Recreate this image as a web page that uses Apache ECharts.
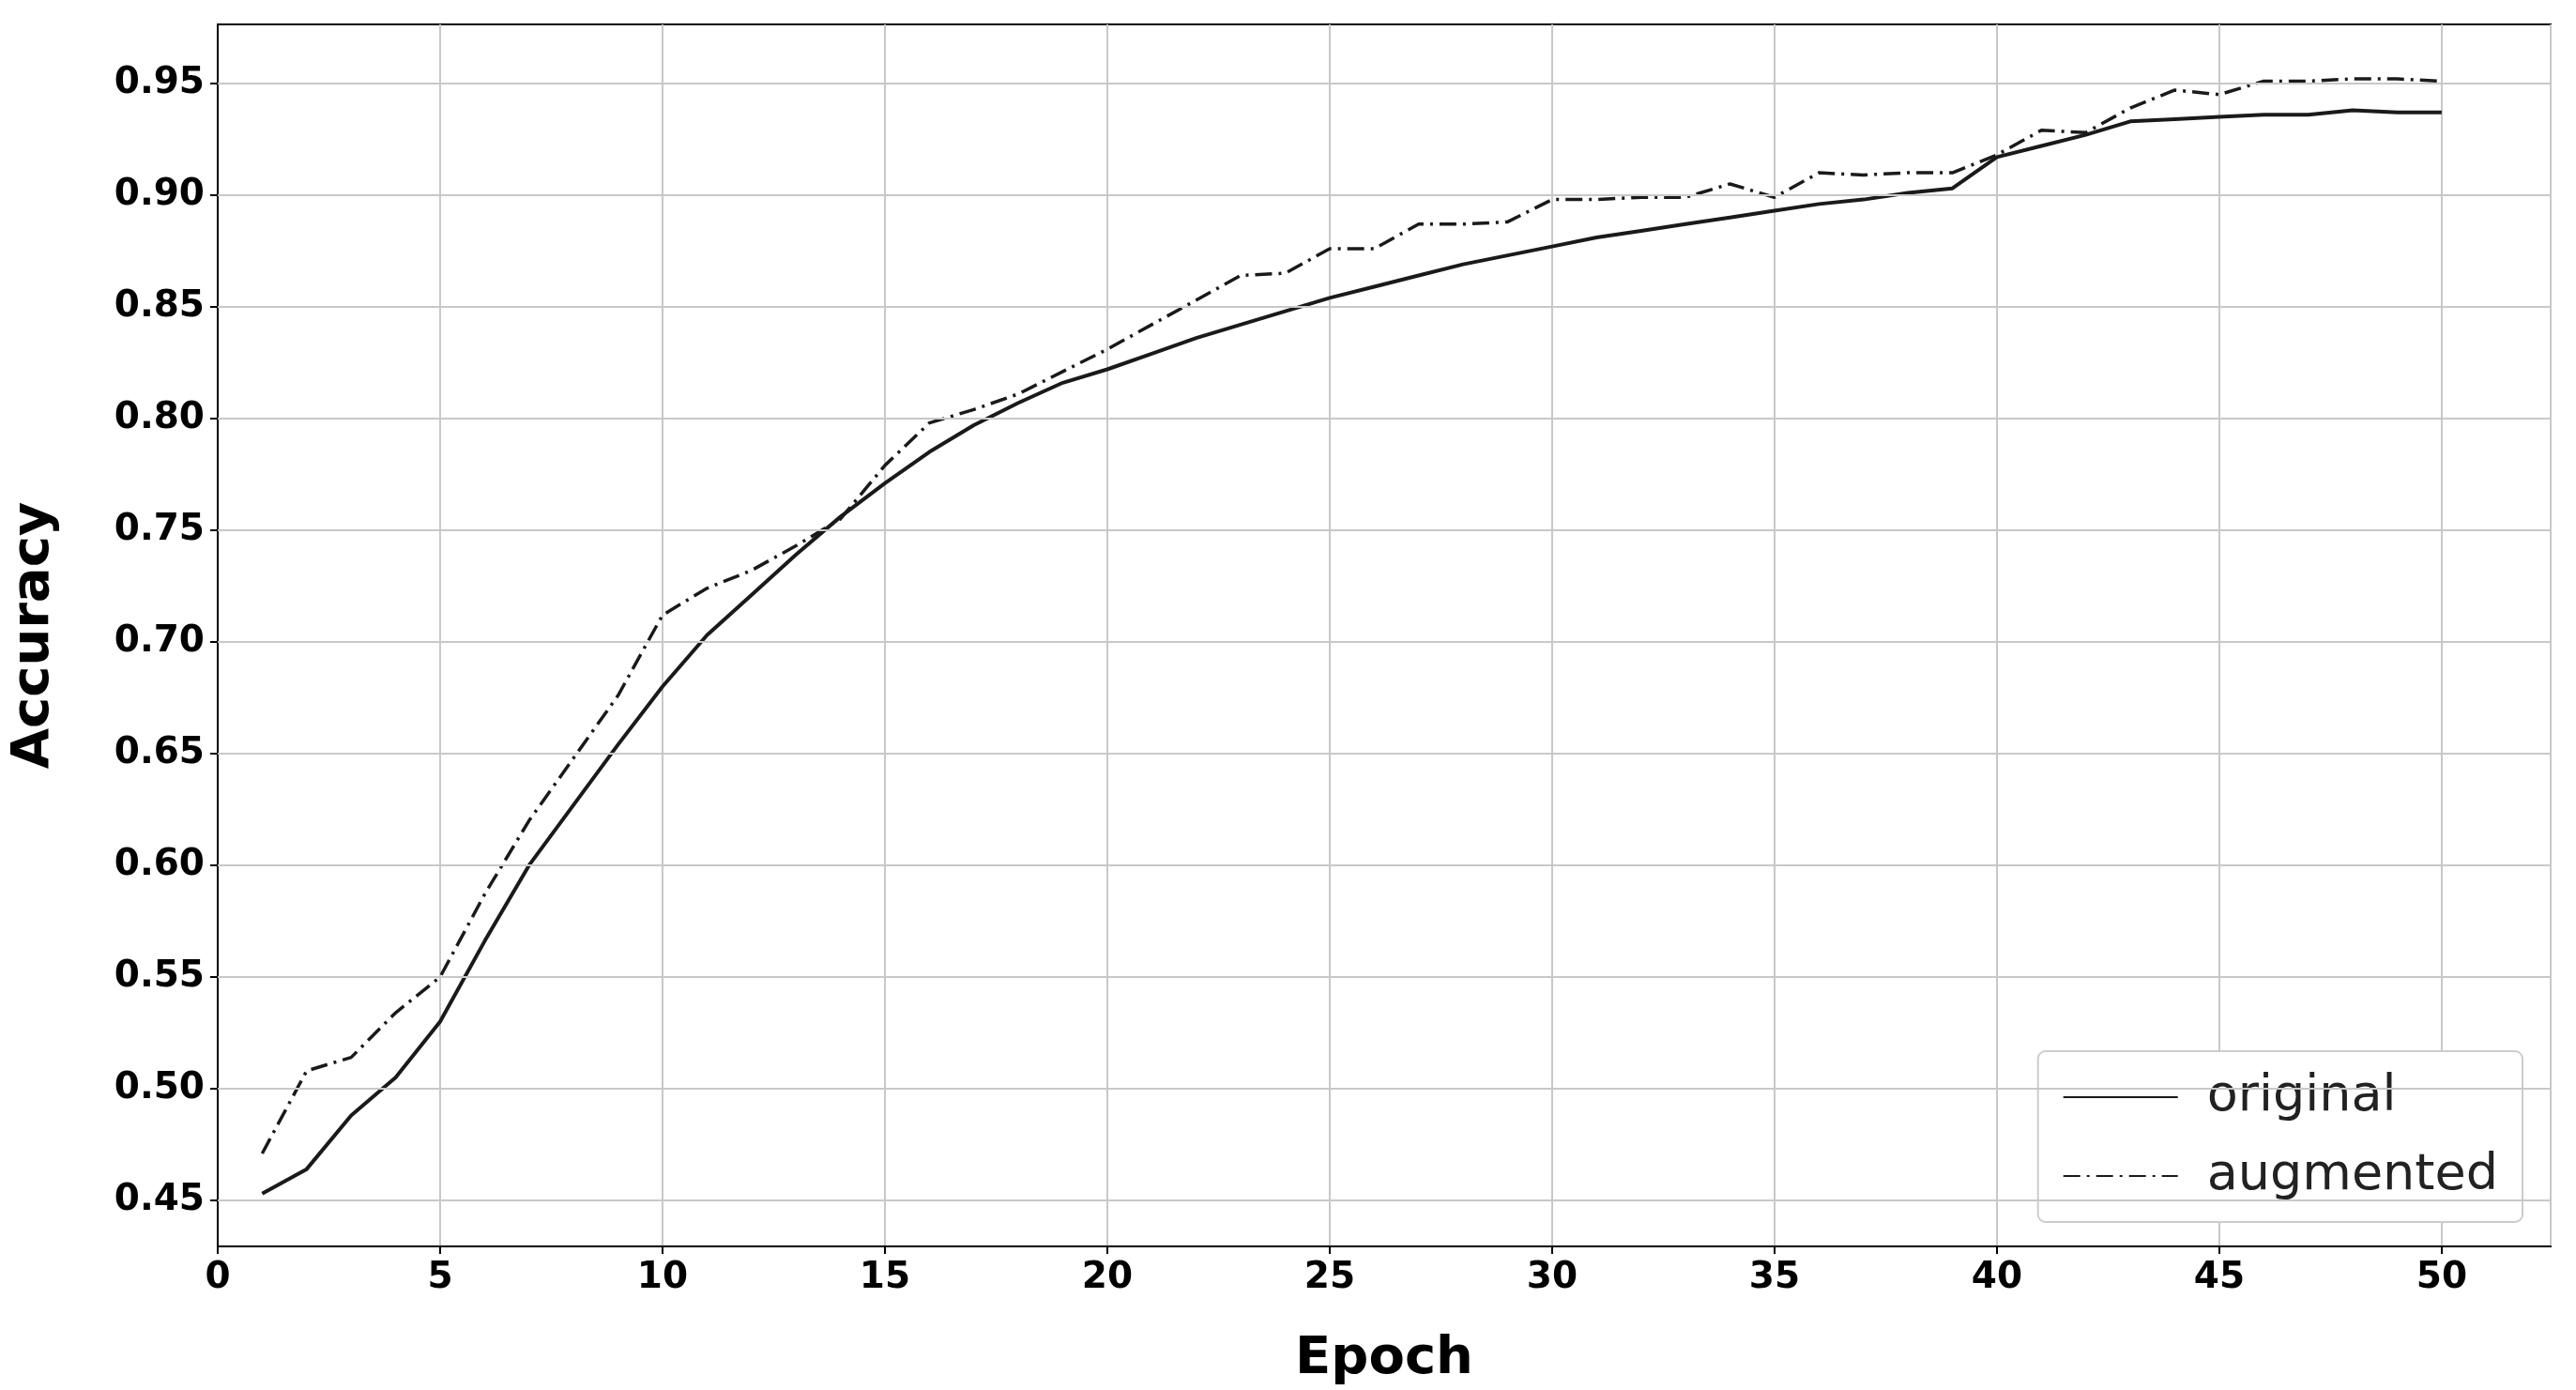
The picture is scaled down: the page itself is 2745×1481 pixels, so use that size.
<!DOCTYPE html>
<html><head><meta charset="utf-8">
<script src="https://cdn.jsdelivr.net/npm/echarts@6/dist/echarts.min.js"></script>
<style>html,body{margin:0;padding:0;background:#fff}#c{width:2745px;height:1481px}</style>
</head><body><div id="c"></div>
<script>
const epochs = Array.from({length:50},(_,i)=>i+1);
const original = [0.453,0.464,0.488,0.505,0.530,0.566,0.600,0.627,0.654,0.680,0.703,0.721,0.739,0.756,0.771,0.785,0.797,0.807,0.816,0.822,0.829,0.836,0.842,0.848,0.854,0.859,0.864,0.869,0.873,0.877,0.881,0.884,0.887,0.890,0.893,0.896,0.898,0.901,0.903,0.917,0.922,0.927,0.933,0.934,0.935,0.936,0.936,0.938,0.937,0.937];
const augmented = [0.471,0.508,0.514,0.534,0.550,0.587,0.620,0.648,0.676,0.712,0.724,0.732,0.743,0.755,0.779,0.798,0.804,0.811,0.821,0.831,0.842,0.853,0.864,0.865,0.876,0.876,0.887,0.887,0.888,0.898,0.898,0.899,0.899,0.905,0.899,0.910,0.909,0.910,0.910,0.918,0.929,0.928,0.939,0.947,0.945,0.951,0.951,0.952,0.952,0.951];
const yTicks = [0.45,0.5,0.55,0.6,0.65,0.7,0.75,0.8,0.85,0.9,0.95];
const chart = echarts.init(document.getElementById('c'));
const tickFont = {fontFamily:'DejaVu Sans',fontWeight:'bold',fontSize:39,color:'#000'};
chart.setOption({
  animation:false,
  grid:{left:231,right:27,top:26,bottom:151,show:true,borderColor:'#000',borderWidth:2},
  xAxis:{type:'value',min:0,max:52.45,interval:5,name:'Epoch',nameLocation:'middle',nameGap:92,
    nameTextStyle:{fontFamily:'DejaVu Sans',fontWeight:'bold',fontSize:56,color:'#000'},
    axisLine:{show:true,onZero:false,lineStyle:{color:'#000',width:2}},
    axisTick:{show:true,length:8,lineStyle:{color:'#000',width:2}},
    axisLabel:Object.assign({margin:14,showMaxLabel:false,formatter:v=>v<=50?String(v):''},tickFont),
    splitLine:{show:true,lineStyle:{color:'#c8c8c8',width:2}}},
  yAxis:{type:'value',min:0.4294,max:0.9764,name:'Accuracy',nameLocation:'middle',nameGap:168,
    nameTextStyle:{fontFamily:'DejaVu Sans',fontWeight:'bold',fontSize:56,color:'#000'},
    axisLine:{show:true,lineStyle:{color:'#000',width:2}},
    axisTick:{show:true,length:8,lineStyle:{color:'#000',width:2},customValues:yTicks},
    axisLabel:Object.assign({margin:14,customValues:yTicks,formatter:v=>v.toFixed(2)},tickFont),
    splitLine:{show:false}},
  legend:{orient:'vertical',right:57,bottom:179,itemWidth:122,itemHeight:20,itemGap:30,
    padding:[22,26,22,26],backgroundColor:'#fff',borderColor:'#ccc',borderWidth:2,borderRadius:8,
    itemStyle:{opacity:0},
    textStyle:{fontFamily:'DejaVu Sans',fontSize:54,color:'#222',padding:[0,0,0,26]},
    data:['original','augmented']},
  series:[
    {name:'original',type:'line',symbol:'none',color:'#1a1a1a',data:epochs.map((e,i)=>[e,original[i]]),lineStyle:{color:'#1a1a1a',width:4}},
    {name:'augmented',type:'line',symbol:'none',color:'#1a1a1a',data:epochs.map((e,i)=>[e,augmented[i]]),lineStyle:{color:'#1a1a1a',width:3.5,type:[18,7,3,7]}},
    {type:'line',silent:true,data:[],markLine:{symbol:'none',silent:true,label:{show:false},
      lineStyle:{color:'#c8c8c8',width:2,type:'solid'},
      data:yTicks.map(v=>({yAxis:v}))}}
  ]
});
</script></body></html>
